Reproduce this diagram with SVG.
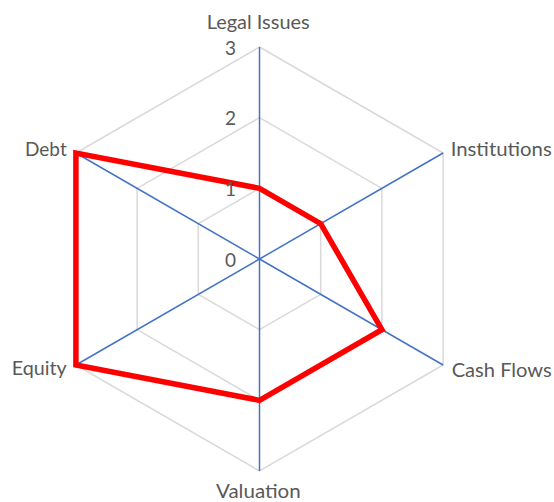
<svg xmlns="http://www.w3.org/2000/svg" width="554" height="502" viewBox="0 0 554 502">
  <style>
    .grid { fill: none; stroke: #D9D9D9; stroke-width: 1.5; }
    .axis { stroke: #4472C4; stroke-width: 1.5; fill: none; }
    .series { fill: none; stroke: #FF0000; stroke-width: 5.5; stroke-linejoin: miter; }
    .lbl { font-family: Lato, "Liberation Sans", sans-serif; font-size: 19px; fill: #595959; }
    .tick { font-family: Lato, "Liberation Sans", sans-serif; font-size: 19px; fill: #595959; text-anchor: end; }
  </style>
  <rect width="554" height="502" fill="#FFFFFF"/>
  <g id="gridlines">
    <polygon class="grid" points="259.5,188.33 320.7,223.67 320.7,294.33 259.5,329.67 198.3,294.33 198.3,223.67"/>
    <polygon class="grid" points="259.5,117.67 381.9,188.33 381.9,329.67 259.5,400.33 137.1,329.67 137.1,188.33"/>
    <polygon class="grid" points="259.5,47 443.1,153 443.1,365 259.5,471 75.9,365 75.9,153"/>
  </g>
  <g id="connectors">
    <line class="axis" x1="259.5" y1="259" x2="259.5" y2="47"/>
    <line class="axis" x1="259.5" y1="259" x2="443.1" y2="153"/>
    <line class="axis" x1="259.5" y1="259" x2="443.1" y2="365"/>
    <line class="axis" x1="259.5" y1="259" x2="259.5" y2="471"/>
    <line class="axis" x1="259.5" y1="259" x2="75.9" y2="365"/>
    <line class="axis" x1="259.5" y1="259" x2="75.9" y2="153"/>
  </g>
  <g id="series">
    <polygon class="series" points="259.5,188.33 320.7,223.67 381.9,329.67 259.5,400.33 75.9,365 75.9,153"/>
  </g>
  <g id="ticks">
    <text class="tick" x="236" y="55">3</text>
    <text class="tick" x="236" y="125">2</text>
    <text class="tick" x="236" y="196">1</text>
    <text class="tick" x="236" y="267">0</text>
  </g>
  <g id="node-legal-issues">
    <text class="lbl" x="206.7" y="28.5" textLength="103" lengthAdjust="spacingAndGlyphs">Legal Issues</text>
  </g>
  <g id="node-institutions">
    <text class="lbl" x="450.7" y="155.5" textLength="101" lengthAdjust="spacingAndGlyphs">Institutions</text>
  </g>
  <g id="node-cash-flows">
    <text class="lbl" x="451.7" y="376.5" textLength="100" lengthAdjust="spacingAndGlyphs">Cash Flows</text>
  </g>
  <g id="node-valuation">
    <text class="lbl" x="216" y="497.5" textLength="84.7" lengthAdjust="spacingAndGlyphs">Valuation</text>
  </g>
  <g id="node-equity">
    <text class="lbl" x="11.7" y="375" textLength="55" lengthAdjust="spacingAndGlyphs">Equity</text>
  </g>
  <g id="node-debt">
    <text class="lbl" x="25" y="155.5" textLength="41.7" lengthAdjust="spacingAndGlyphs">Debt</text>
  </g>
</svg>
